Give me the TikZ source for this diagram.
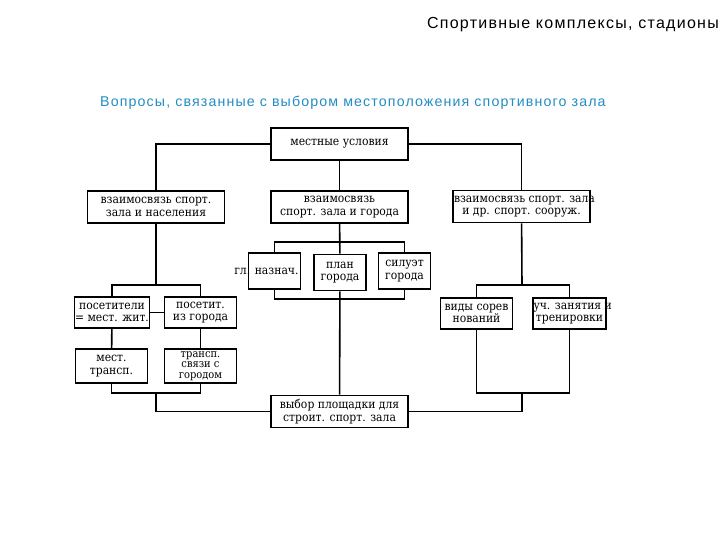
\documentclass[tikz,border=0pt]{standalone}
\usepackage{fontspec}
\setmainfont{DejaVu Serif Condensed}
\newfontfamily\headfont[LetterSpace=8]{Liberation Sans}
\definecolor{headblue}{RGB}{35,140,195}

\tikzstyle{block}=[draw, line width=1.6pt, align=center, inner sep=0.5pt,
  font=\fontsize{12}{12.5}\selectfont]
\tikzstyle{wide}=[block, minimum width=137, minimum height=32]
\tikzstyle{small}=[block, minimum width=52, minimum height=36]
\tikzstyle{pair}=[block, minimum width=72, minimum height=31]
\tikzstyle{link}=[line width=1.6pt]

\begin{document}
\begin{tikzpicture}[x=1pt, y=-1pt]
      \useasboundingbox (0,0) rectangle (720,540);

      \node[anchor=east, inner sep=0, font=\headfont\fontsize{16}{18}\selectfont] (title) at (719,25) {Спортивные комплексы, стадионы};
      \node[anchor=west, inner sep=0, text=headblue, font=\headfont\fontsize{14.2}{16}\selectfont] (sub) at (100,103) {Вопросы, связанные с выбором местоположения спортивного зала};

      \node[wide] (usl) at (339.5, 144) {местные условия};
      \node[wide] (nas) at (156, 207) {взаимосвязь спорт.\\зала и населения};
      \node[wide] (gor) at (339.5, 207) {взаимосвязь\\спорт. зала и города};
      \node[wide] (soor) at (521.5, 206.5) {\makebox[135pt][l]{взаимосвязь спорт. зала}\\и др. спорт. сооруж.};

      \node[small] (nazn) at (274.5, 271) {\makebox[48pt][r]{гл. назнач.}};
      \node[small] (plan) at (340, 272.5) {план\\города};
      \node[small] (silu) at (404.5, 271) {силуэт\\города};

      \node[pair] (mzh) at (112, 312.5) {посетители\\= мест. жит.};
      \node[pair] (izg) at (200.5, 312.5) {посетит.\\из города};
      \node[pair, minimum height=34] (mtr) at (111.5, 366) {мест.\\трансп.};
      \node[pair, minimum height=34, font=\fontsize{11}{10.5}\selectfont] (tsg) at (200.5, 366) {трансп.\\связи с\\городом};

      \node[pair] (vid) at (476.5, 313.5) {виды сорев\\нований};
      \node[pair] (trn) at (569.5, 313.5) {\makebox[72pt][l]{уч. занятия и}\\тренировки};

      \node[wide] (vyb) at (339.5, 411.5) {выбор площадки для\\строит. спорт. зала};

      \coordinate (gt) at (339.5, 242);
      \coordinate (gb) at (339.5, 299);
      \coordinate (lt) at (156, 285);
      \coordinate (lb) at (156, 393);
      \coordinate (rt) at (522, 285);
      \coordinate (rb) at (522, 393);

      \draw[link] (usl.west) -| (nas.north);
      \draw[link] (usl.east) -| (soor.north);
      \draw[link] (usl) to (gor);

      \draw[link] (gor) to (plan);
      \draw[link] (nazn.north) |- (gt) -| (silu.north);
      \draw[link] (nazn.south) |- (gb) -| (silu.south);
      \draw[link] (plan) to (vyb);

      \draw[link] (nas) to (lt);
      \draw[link] (mzh.north) |- (lt) -| (izg.north);
      \draw[link] (mzh) to (izg);
      \draw[link] (mzh) to (mtr);
      \draw[link] (izg) to (tsg);
      \draw[link] (mtr.south) |- (lb) -| (tsg.south);
      \draw[link] (lb) |- (vyb.west);

      \draw[link] (soor) to (rt);
      \draw[link] (vid.north) |- (rt) -| (trn.north);
      \draw[link] (vid.south) |- (rb) -| (trn.south);
      \draw[link] (rb) |- (vyb.east);
    \end{tikzpicture}
\end{document}
